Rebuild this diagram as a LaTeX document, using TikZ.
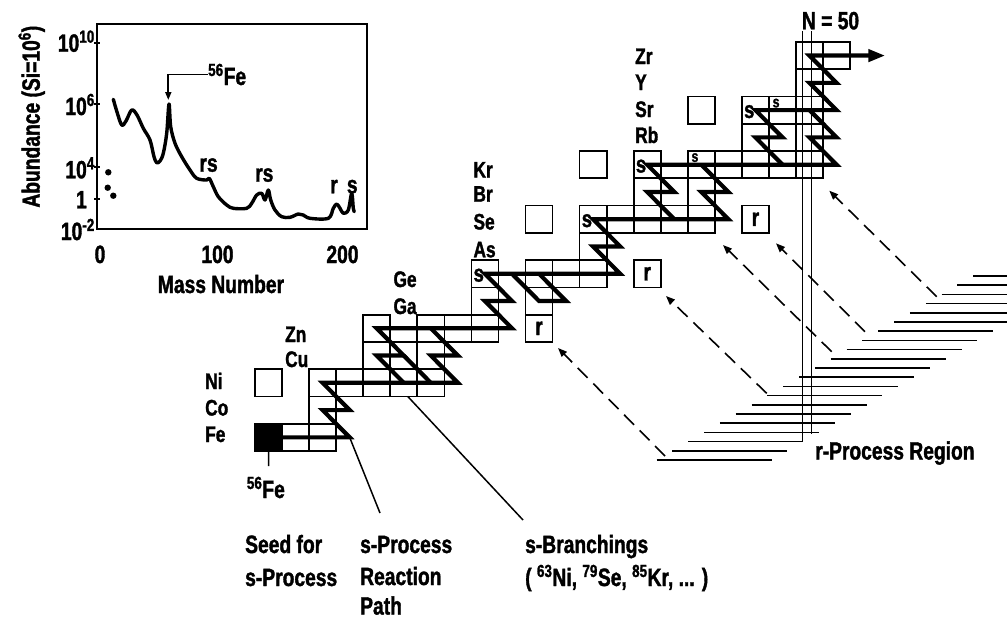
\documentclass[tikz,border=0pt]{standalone}
\usepackage{fontspec}
\setmainfont{Liberation Sans}[FakeStretch=0.77, FakeBold=1.4]
\usetikzlibrary{arrows.meta}
\begin{document}
\begin{tikzpicture}[x=1pt,y=-1pt,
  nucbox/.style={draw, line width=1.7pt, minimum width=27.05pt, minimum height=27.27pt, inner sep=0pt, outer sep=0pt},
  spath/.style={line width=4.2pt, line join=miter, miter limit=10},
  lbl/.style={font=\fontsize{25}{30}\selectfont\bfseries, inner sep=0pt, anchor=base west},
  ele/.style={font=\fontsize{22.5}{24}\selectfont\bfseries, inner sep=0pt, anchor=base west},
  sbig/.style={font=\fontsize{24}{26}\selectfont\bfseries, inner sep=0pt, anchor=west},
  ssmall/.style={font=\fontsize{16}{18}\selectfont\bfseries, inner sep=0pt, anchor=north west},
  rbox/.style={nucbox, font=\fontsize{25}{28}\selectfont\bfseries},
  leader/.style={line width=1.5pt},
  hatchline/.style={line width=1.5pt},
  rarr/.style={line width=1.6pt, dash pattern=on 14pt off 8pt, -{Triangle[length=9pt,width=7pt]}},
  nline/.style={line width=1.3pt},
  inframe/.style={line width=2.2pt},
  abcurve/.style={line width=3.4pt, line join=round, line cap=round}
]
\useasboundingbox (0,0) rectangle (1007,619);
\fill[white] (0,0) rectangle (1007,619);

% ---------------- inset abundance plot ----------------
\draw[inframe] (96.7,24) rectangle (366.7,229.3);
\foreach \yy in {42.7,104,166.7,199} \draw[line width=2pt] (94,\yy) -- (100,\yy);
\node[lbl, anchor=base east] (t10) at (95,51.7) {10\textsuperscript{10}};
\node[lbl, anchor=base east] (t6) at (95,115) {10\textsuperscript{6}};
\node[lbl, anchor=base east] (t4) at (95,178.3) {10\textsuperscript{4}};
\node[lbl, anchor=base east] (t1) at (87,208.3) {1};
\node[lbl, anchor=base east] (tm2) at (95,240) {10\textsuperscript{-2}};
\node[lbl, anchor=base] (x0) at (100,263) {0};
\node[lbl, anchor=base] (x100) at (217.5,263) {100};
\node[lbl, anchor=base] (x200) at (342.5,263) {200};
\node[lbl, anchor=base] (xlab) at (221,293) {Mass Number};
\node[lbl, anchor=center, rotate=90] (ylab) at (31.7,116.7) {Abundance (Si=10\textsuperscript{6})};
\fill (108.3,172.3) circle (3.2);
\fill (107.7,187.7) circle (3.2);
\fill (113.3,195.7) circle (3.2);
\draw[abcurve] plot[smooth, tension=0.55] coordinates {(113.3,99.3) (117,112) (121.7,125) (126,121) (131.7,110) (137,115) (143.3,128.3) (150,140) (154,156.7) (156.7,162.7) (160,161) (163.3,153.3) (166.7,133.3) (169,104) (170.7,126.7) (175,143.3) (181.7,156.7) (190,170) (196.7,178.3) (206.7,180) (209.3,178.3) (213.3,186.7) (218.3,196.7) (226.7,205) (233.3,208.3) (246.7,208.3) (251.7,203.3) (256.7,195) (261.7,193.3) (265,200) (268.3,190) (270.7,200) (275,210) (281.7,216.7) (290,217.3) (298.3,214) (303.3,215) (310,218.3) (328.3,218.3) (333.3,208.3) (336.7,204) (340,208.3) (343.3,213.3) (348.3,210) (351.7,193.3) (353.3,208.3) (354.3,211.7)};
\node[lbl] (felbl) at (208,85) {\textsuperscript{56}Fe};
\coordinate (fepeak) at (168.3,100);
\draw[line width=1.8pt, -{Triangle[length=8pt,width=6pt]}] (felbl.west) -| (fepeak);
\node[lbl] (pk1) at (199.3,171.7) {rs};
\node[lbl] (pk2) at (255,181.7) {rs};
\node[lbl] (pk3) at (330,193.3) {r};
\node[lbl] (pk4) at (346.7,193.3) {s};

% ---------------- r-process hatching ----------------
\foreach \k in {0,...,20} {
  \pgfmathsetmacro\ya{276+9.2*\k}
  \pgfmathsetmacro\xa{973.3-15.84*\k}
  \pgfmathsetmacro\xb{min(\xa+115,1007)}
  \draw[hatchline] (\xa,\ya) -- (\xb,\ya);
}

% ---------------- chart of nuclides ----------------
\begin{scope}[shift={(255,451)}, x=27.05pt, y=27.27pt]
  \foreach \i in {0,...,21} { \foreach \j in {0,...,14} { \coordinate (p-\i-\j) at (\i+0.5,\j+0.5); } }
  \coordinate (zrend) at (23.3,14.5);
  \foreach \i/\j in {1/0,2/0,2/1,0/2,2/2,3/2,4/2,5/2,6/2,4/3,5/3,6/3,4/4,6/4,7/4,8/4,8/5,10/5,8/6,10/6,11/6,12/6,12/7,10/8,12/8,13/8,14/8,15/8,16/8,14/9,15/9,16/9,12/10,14/10,16/10,17/10,18/10,19/10,20/10,18/11,19/11,20/11,16/12,18/12,19/12,20/12,20/13,20/14,21/14}
    \node[nucbox] (b-\i-\j) at (p-\i-\j) {};
  \node[nucbox, fill=black] (b-0-0) at (p-0-0) {};
  \foreach \i/\j in {10/4,14/6,18/8}
    \node[rbox] (b-\i-\j) at (p-\i-\j) {r};

  % s-process path
  \draw[spath] (p-0-0) -- (p-3-0) -- (p-2-1) -- (p-3-1) -- (p-2-2) -- (p-7-2) -- (p-6-3) -- (p-7-3) -- (p-6-4);
  \draw[spath] (p-5-2) -- (p-4-3) -- (p-5-3) -- (p-4-4) -- (p-9-4) -- (p-8-5) -- (p-9-5) -- (p-8-6) -- (p-13-6) -- (p-12-7) -- (p-13-7) -- (p-12-8) -- (p-17-8) -- (p-16-9) -- (p-17-9) -- (p-16-10);
  \draw[spath] (p-5-3) -- (p-6-2);
  \draw[spath] (p-9-6) -- (p-10-5) -- (p-11-5) -- (p-10-6);
  \draw[spath] (p-15-8) -- (p-14-9) -- (p-15-9) -- (p-14-10) -- (p-21-10) -- (p-20-11) -- (p-21-11) -- (p-20-12);
  \draw[spath, -{Triangle[length=17pt,width=12pt]}] (p-19-10) -- (p-18-11) -- (p-19-11) -- (p-18-12) -- (p-21-12) -- (p-20-13) -- (p-21-13) -- (p-20-14) -- (zrend);

  \foreach \i/\j in {8/6,12/8,14/10,18/12}
    \node[sbig] (s-\i-\j) at ([xshift=2pt,yshift=-1.5pt]b-\i-\j.west) {s};
  \foreach \i/\j in {16/10,19/12}
    \node[ssmall] (s-\i-\j) at ([xshift=3.5pt,yshift=-2pt]b-\i-\j.north west) {s};
\end{scope}

% N = 50 lines
\node[lbl] (nlab) at (801.7,29.3) {N = 50};
\coordinate (n1top) at (802.4,31);
\coordinate (n1bot) at (802.4,441.7);
\coordinate (n2top) at (811.6,31);
\coordinate (n2bot) at (811.6,434);
\draw[nline] (n1top) -- (n1bot);
\draw[nline] (n2top) -- (n2bot);

% dashed r-process arrows
\coordinate (ra1) at (665,456);   \coordinate (rb1) at (558,348);
\coordinate (ra2) at (766.7,393.3); \coordinate (rb2) at (666,296);
\coordinate (ra3) at (831.7,351.7); \coordinate (rb3) at (723,245);
\coordinate (ra4) at (865,331.7); \coordinate (rb4) at (776,243.3);
\coordinate (ra5) at (936.7,296.7); \coordinate (rb5) at (829.3,190.7);
\foreach \n in {1,...,5} \draw[rarr] (ra\n) -- (rb\n);
\node[lbl] (rreg) at (815,459.5) {r-Process Region};

% leaders and bottom labels
\coordinate (felead) at (268.5,466);
\draw[leader] (b-0-0.south) -- (felead);
\node[lbl] (fe56) at (246.7,498) {\textsuperscript{56}Fe};
\coordinate (splead) at (380,513);
\draw[leader] (p-3-0) -- (splead);
\coordinate (sblead) at (523,520);
\draw[leader] ([xshift=4pt]b-5-2.south) -- (sblead);

\node[lbl] (seed1) at (245,553) {Seed for};
\node[lbl] (seed2) at (245,586) {s-Process};
\node[lbl] (spr1) at (360,553) {s-Process};
\node[lbl] (spr2) at (360,585) {Reaction};
\node[lbl] (spr3) at (360,614.5) {Path};
\node[lbl] (sbr1) at (525,553) {s-Branchings};
\node[lbl] (sbr2) at (525,586) {( \textsuperscript{63}Ni, \textsuperscript{79}Se, \textsuperscript{85}Kr, ... )};

% element labels
\node[ele] (lNi) at (205,389) {Ni};
\node[ele] (lCo) at (205,415.5) {Co};
\node[ele] (lFe) at (205,442) {Fe};
\node[ele] (lZn) at (285,342) {Zn};
\node[ele] (lCu) at (285,367) {Cu};
\node[ele] (lGe) at (393.3,287) {Ge};
\node[ele] (lGa) at (393.3,314) {Ga};
\node[ele] (lKr) at (473.3,177.5) {Kr};
\node[ele] (lBr) at (473.3,201.7) {Br};
\node[ele] (lSe) at (473.3,229.5) {Se};
\node[ele] (lAs) at (473.3,257.3) {As};
\node[ele] (lZr) at (635,64) {Zr};
\node[ele] (lY) at (635,90) {Y};
\node[ele] (lSr) at (635,117) {Sr};
\node[ele] (lRb) at (635,143) {Rb};
\end{tikzpicture}
\end{document}
